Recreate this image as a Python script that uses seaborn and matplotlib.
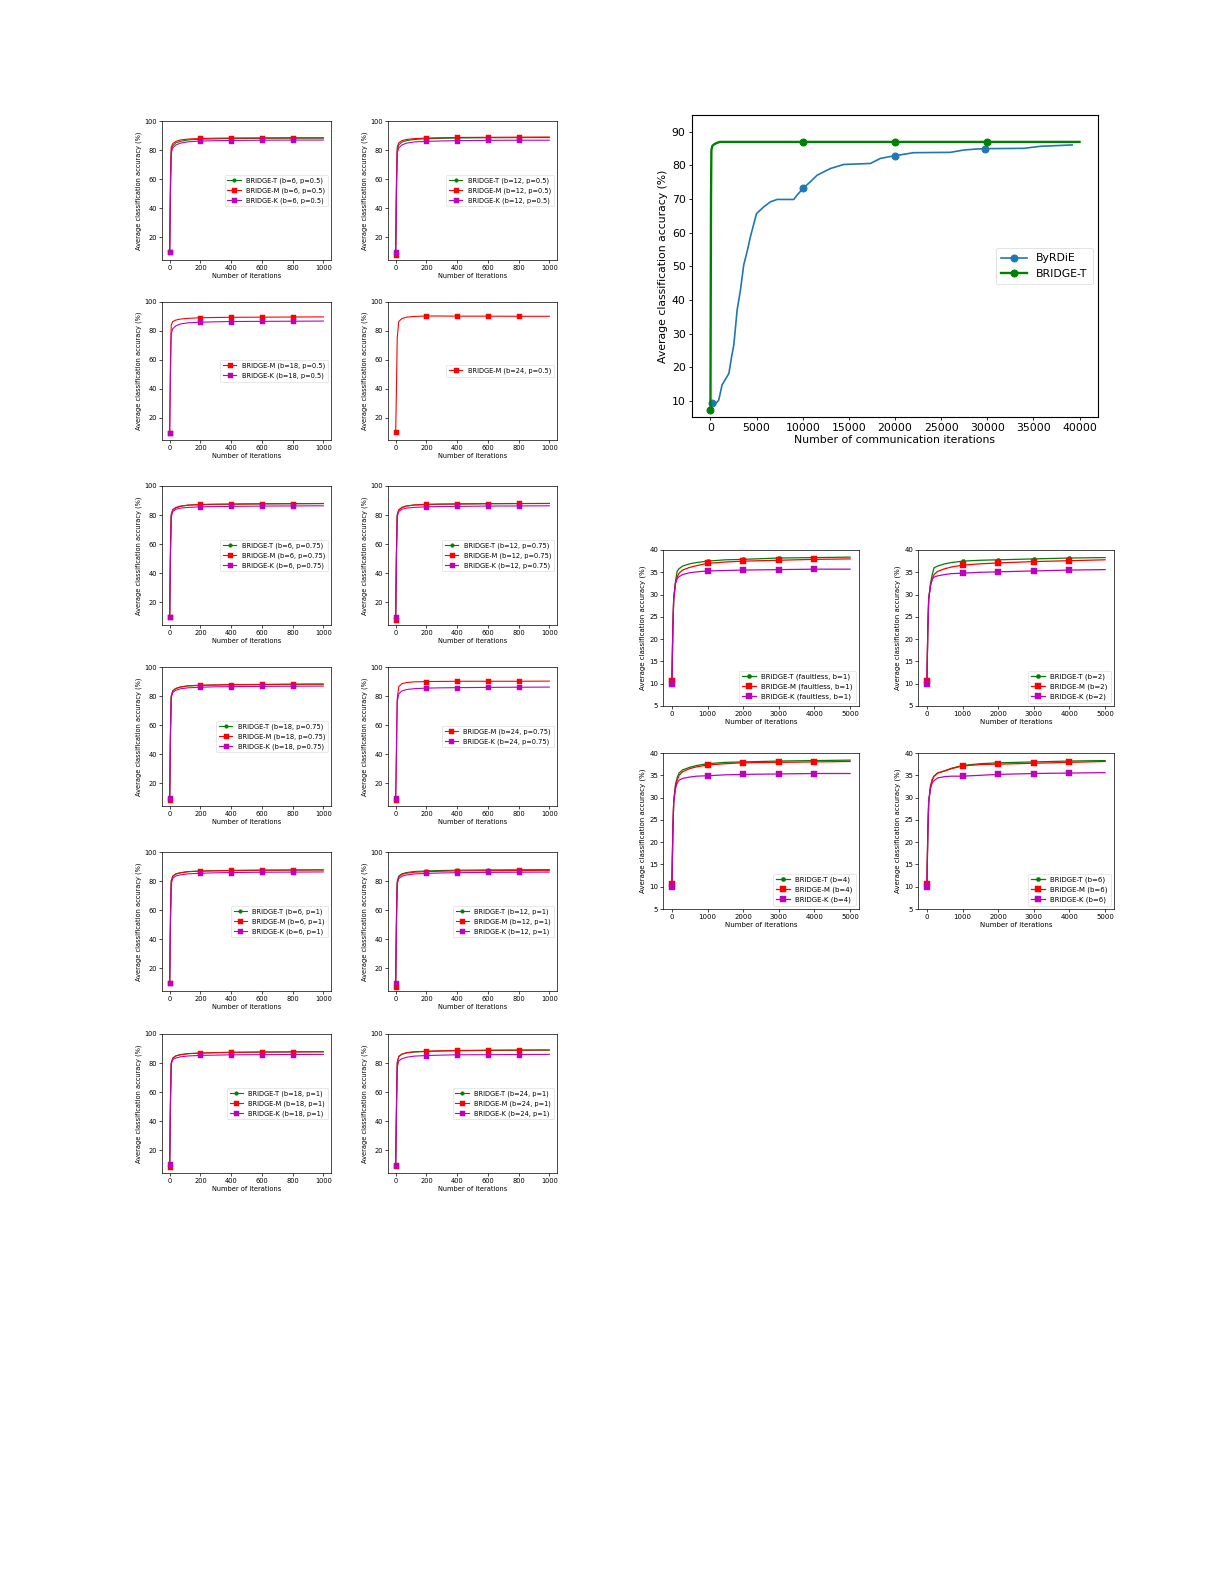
import matplotlib
matplotlib.use("Agg")
import matplotlib.pyplot as plt
import seaborn as sns

W, H = 1225, 1585

# ---------------- MNIST small panels (iterations 0..1000) ----------------
mnist_x = [0, 5, 10, 20, 40, 70, 120, 200, 300, 400, 600, 800, 1000]
mnist_marks = [0, 7, 9, 10, 11]  # 0, 200, 400, 600, 800

t_b6_p05 = [10, 55, 80, 83, 85, 86, 87, 87.5, 87.8, 88, 88.1, 88.2, 88.2]
m_b6_p05 = [10, 60, 82, 84.5, 86, 87, 87.6, 88, 88.2, 88.3, 88.4, 88.5, 88.5]
k_b6_p05 = [10, 50, 78, 81.5, 83.5, 84.8, 85.7, 86.2, 86.5, 86.6, 86.8, 86.9, 86.9]

t_b12_p05 = [9, 55, 80, 83.5, 85.5, 86.5, 87.3, 87.8, 88.1, 88.3, 88.5, 88.6, 88.6]
m_b12_p05 = [8, 58, 82, 85, 86.5, 87.3, 87.9, 88.3, 88.5, 88.7, 88.8, 88.9, 89]
k_b12_p05 = [10, 50, 78, 81.5, 83.5, 84.8, 85.6, 86, 86.3, 86.5, 86.7, 86.8, 86.8]

m_b18_p05 = [9.5, 60, 84, 86.5, 87.5, 88.2, 88.7, 89.1, 89.3, 89.4, 89.5, 89.6, 89.7]
k_b18_p05 = [9.5, 50, 78, 81.5, 83.5, 84.8, 85.6, 86, 86.3, 86.5, 86.6, 86.7, 86.8]

m_b24_p05 = [10, 40, 75, 86.5, 88.5, 89.5, 90, 90.3, 90.3, 90.2, 90.2, 90.1, 90.1]

t_b6_p075 = [10, 55, 80, 83.5, 85, 86, 86.8, 87.2, 87.4, 87.5, 87.7, 87.8, 87.9]
m_b6_p075 = [10, 56, 80.5, 83.8, 85.3, 86.2, 86.9, 87.3, 87.5, 87.6, 87.8, 87.9, 88]
k_b6_p075 = [10, 52, 79, 82.5, 84, 84.8, 85.3, 85.7, 85.9, 86, 86.2, 86.3, 86.4]

t_b12_p075 = [9.5, 55, 80, 83.5, 85.2, 86.2, 86.9, 87.3, 87.5, 87.6, 87.8, 87.9, 88]
m_b12_p075 = [8, 55, 80, 83.6, 85.3, 86.3, 87, 87.4, 87.6, 87.7, 87.9, 88, 88]
k_b12_p075 = [10, 52, 79, 82.5, 84, 84.8, 85.3, 85.7, 85.9, 86, 86.2, 86.3, 86.4]

t_b18_p075 = [9, 55, 80, 83.5, 85.2, 86.2, 87, 87.4, 87.6, 87.8, 88, 88.1, 88.2]
m_b18_p075 = [8.5, 55, 80, 83.6, 85.3, 86.3, 87.1, 87.5, 87.7, 87.9, 88, 88.2, 88.3]
k_b18_p075 = [10, 52, 79, 82.5, 84, 85, 85.7, 86.1, 86.4, 86.5, 86.7, 86.8, 86.9]

m_b24_p075 = [8.5, 40, 78, 86.5, 88.5, 89.3, 89.8, 90, 90.1, 90.2, 90.2, 90.2, 90.3]
k_b24_p075 = [10, 45, 76, 81.5, 83.5, 84.5, 85.1, 85.5, 85.7, 85.8, 86, 86.1, 86.2]

t_b6_p1 = [10, 55, 80, 83.5, 85, 85.8, 86.5, 86.9, 87.1, 87.3, 87.5, 87.6, 87.7]
m_b6_p1 = [10, 55, 80, 83.3, 84.8, 85.7, 86.5, 86.9, 87.1, 87.3, 87.5, 87.6, 87.7]
k_b6_p1 = [10, 50, 78, 82, 83.5, 84.3, 85, 85.4, 85.7, 85.9, 86.1, 86.2, 86.3]

t_b12_p1 = [9, 55, 80, 83.5, 85, 85.9, 86.6, 87, 87.3, 87.5, 87.7, 87.8, 87.9]
m_b12_p1 = [7, 55, 79, 82.8, 84.5, 85.4, 86.1, 86.5, 86.8, 87, 87.2, 87.3, 87.4]
k_b12_p1 = [10, 50, 78, 81.8, 83.3, 84.2, 84.9, 85.3, 85.6, 85.8, 86, 86.1, 86.2]

t_b18_p1 = [9, 55, 80, 83.5, 85, 85.8, 86.5, 86.9, 87.2, 87.4, 87.6, 87.7, 87.8]
m_b18_p1 = [8.5, 55, 80, 83.3, 84.9, 85.8, 86.5, 86.9, 87.2, 87.4, 87.6, 87.7, 87.8]
k_b18_p1 = [10.5, 50, 79, 82.5, 83.5, 84.3, 84.9, 85.3, 85.5, 85.7, 85.8, 85.9, 86]

t_b24_p1 = [9.5, 50, 80, 84.5, 86, 87, 87.6, 88, 88.3, 88.5, 88.7, 88.8, 88.9]
m_b24_p1 = [9, 50, 80.5, 84.7, 86.2, 87.2, 87.8, 88.2, 88.5, 88.7, 88.9, 89, 89.1]
k_b24_p1 = [10, 45, 77, 81.5, 83, 84, 84.8, 85.2, 85.5, 85.7, 85.8, 85.9, 86]

# ---------------- ByRDiE vs BRIDGE-T (communication iterations) ----------------
byrdie_x = [200, 540, 900, 1260, 2000, 2280, 2530, 2890, 3250, 3610, 3970, 4330, 4990,
            5780, 6500, 7230, 9030, 9390, 10040, 10840, 11560, 13000, 14450, 17340,
            18420, 19980, 22040, 26010, 27460, 28900, 29800, 33960, 35770, 39200]
byrdie_y = [9.5, 9.1, 10.3, 14.8, 18.2, 23, 26.6, 37, 43, 50.5, 54.4, 58.8, 65.7,
            67.7, 69.2, 69.9, 69.9, 71.2, 73.2, 75.2, 77.1, 79.1, 80.3, 80.6,
            82.1, 82.9, 83.8, 83.9, 84.6, 84.9, 85.0, 85.1, 85.7, 86.1]
byrdie_marks = [0, 18, 25, 30]

bridge_x = [0, 30, 60, 100, 200, 400, 700, 1000, 2000, 5000, 10000, 15000,
            20000, 25000, 30000, 35000, 40000]
bridge_y = [7.3, 40, 70, 84.5, 85.8, 86.3, 86.7, 87.0, 87.0, 87.0, 87.0, 87.0,
            87.0, 87.0, 87.0, 87.0, 87.0]
bridge_marks = [0, 10, 12, 14]

# ---------------- CIFAR-10 panels (iterations 0..5000) ----------------
cifar_x = [0, 25, 50, 100, 150, 200, 300, 500, 700, 1000, 1500, 2000, 3000, 4000, 5000]
cifar_marks = [0, 9, 11, 12, 13]  # 0, 1000, 2000, 3000, 4000

t_fl_b1 = [10.5, 22, 29, 33, 35.3, 35.8, 36.4, 36.9, 37.2, 37.5, 37.8, 37.9, 38.2, 38.3, 38.4]
m_fl_b1 = [10.5, 22, 29, 32.5, 34, 34.8, 35.5, 36.1, 36.5, 37, 37.3, 37.5, 37.7, 37.9, 38]
k_fl_b1 = [10, 22, 29, 32.5, 33.6, 34, 34.5, 34.9, 35.1, 35.3, 35.4, 35.5, 35.6, 35.7, 35.7]

t_c_b2 = [10.5, 22, 29, 32.5, 34.5, 36, 36.4, 36.9, 37.2, 37.5, 37.7, 37.8, 38, 38.2, 38.3]
m_c_b2 = [10.5, 22, 29, 32, 33.5, 34.5, 35.2, 35.8, 36.2, 36.6, 36.9, 37.1, 37.4, 37.6, 37.8]
k_c_b2 = [10, 22, 29, 32, 33.5, 33.9, 34.2, 34.5, 34.7, 34.8, 35, 35.1, 35.3, 35.5, 35.6]

t_c_b4 = [10.5, 22, 29, 33, 34.5, 35.5, 36.2, 36.8, 37.2, 37.6, 37.9, 38, 38.2, 38.3, 38.4]
m_c_b4 = [10.5, 22, 29, 32.5, 34, 35, 35.8, 36.5, 36.9, 37.3, 37.6, 37.8, 37.9, 38, 38.1]
k_c_b4 = [10, 22, 29, 32, 33.3, 33.9, 34.3, 34.6, 34.8, 34.9, 35.1, 35.2, 35.3, 35.4, 35.4]

t_c_b6 = [10.5, 22, 29, 32.5, 34, 34.8, 35.5, 36, 36.6, 37.2, 37.6, 37.8, 38, 38.2, 38.3]
m_c_b6 = [10.5, 22, 29, 32.5, 34, 34.8, 35.5, 36, 36.5, 37.1, 37.4, 37.5, 37.7, 37.9, 38.1]
k_c_b6 = [10, 22, 29, 32, 33.3, 33.8, 34.4, 34.7, 34.8, 34.8, 35, 35.2, 35.4, 35.5, 35.6]


def px_axes(fig, left, top, right, bottom):
    return fig.add_axes([left / W, 1 - bottom / H, (right - left) / W, (bottom - top) / H])


def style_small(ax, fs):
    for s in ax.spines.values():
        s.set_linewidth(0.5)
    ax.tick_params(labelsize=fs, length=2, width=0.5, pad=1.5)


COLORS = {"T": "g", "M": "r", "K": "m"}
STY = {
    "T": dict(marker="o", markersize=2.6),
    "M": dict(marker="s", markersize=3.6),
    "K": dict(marker="s", markersize=3.6),
}

fig = plt.figure(figsize=(W / 100, H / 100), dpi=100)

# MNIST grid
col_lr = [(162, 331), (388, 557)]
row_tb = [(121, 260), (302, 440), (486, 625), (667, 806), (852, 991), (1034, 1173)]

mnist_panels = [
    [("T", t_b6_p05, "b=6, p=0.5"), ("M", m_b6_p05, "b=6, p=0.5"), ("K", k_b6_p05, "b=6, p=0.5")],
    [("T", t_b12_p05, "b=12, p=0.5"), ("M", m_b12_p05, "b=12, p=0.5"), ("K", k_b12_p05, "b=12, p=0.5")],
    [("M", m_b18_p05, "b=18, p=0.5"), ("K", k_b18_p05, "b=18, p=0.5")],
    [("M", m_b24_p05, "b=24, p=0.5")],
    [("T", t_b6_p075, "b=6, p=0.75"), ("M", m_b6_p075, "b=6, p=0.75"), ("K", k_b6_p075, "b=6, p=0.75")],
    [("T", t_b12_p075, "b=12, p=0.75"), ("M", m_b12_p075, "b=12, p=0.75"), ("K", k_b12_p075, "b=12, p=0.75")],
    [("T", t_b18_p075, "b=18, p=0.75"), ("M", m_b18_p075, "b=18, p=0.75"), ("K", k_b18_p075, "b=18, p=0.75")],
    [("M", m_b24_p075, "b=24, p=0.75"), ("K", k_b24_p075, "b=24, p=0.75")],
    [("T", t_b6_p1, "b=6, p=1"), ("M", m_b6_p1, "b=6, p=1"), ("K", k_b6_p1, "b=6, p=1")],
    [("T", t_b12_p1, "b=12, p=1"), ("M", m_b12_p1, "b=12, p=1"), ("K", k_b12_p1, "b=12, p=1")],
    [("T", t_b18_p1, "b=18, p=1"), ("M", m_b18_p1, "b=18, p=1"), ("K", k_b18_p1, "b=18, p=1")],
    [("T", t_b24_p1, "b=24, p=1"), ("M", m_b24_p1, "b=24, p=1"), ("K", k_b24_p1, "b=24, p=1")],
]

fs_small = 4.8
for i, series in enumerate(mnist_panels):
    r, c = divmod(i, 2)
    ax = px_axes(fig, col_lr[c][0], row_tb[r][0], col_lr[c][1], row_tb[r][1])
    for key, vals, tag in series:
        sns.lineplot(x=mnist_x, y=vals, ax=ax, linewidth=0.8, markevery=mnist_marks,
                     color=COLORS[key], markeredgecolor=COLORS[key], markeredgewidth=0.3,
                     label=f"BRIDGE-{key} ({tag})", **STY[key])
    ax.set_xlim(-50, 1050)
    ax.set_ylim(4.5, 100)
    ax.set_xticks([0, 200, 400, 600, 800, 1000])
    ax.set_yticks([20, 40, 60, 80, 100])
    style_small(ax, fs_small)
    ax.set_xlabel("Number of iterations", fontsize=fs_small, labelpad=1.5)
    ax.set_ylabel("Average classification accuracy (%)", fontsize=fs_small, labelpad=2)
    ax.legend(loc="center right", fontsize=fs_small, frameon=True, handlelength=2.0,
              borderpad=0.4, labelspacing=0.5, framealpha=0.8).get_frame().set_linewidth(0.4)

# Big comparison panel
ax = px_axes(fig, 692, 115, 1098, 417)
sns.lineplot(x=byrdie_x, y=byrdie_y, ax=ax, color="#1f77b4", linewidth=1.2, marker="o",
             markersize=5, markeredgecolor="#1f77b4", markevery=byrdie_marks, label="ByRDiE")
sns.lineplot(x=bridge_x, y=bridge_y, ax=ax, color="g", linewidth=1.7, marker="o",
             markersize=5, markeredgecolor="g", markevery=bridge_marks, label="BRIDGE-T")
ax.set_xlim(-2000, 42000)
ax.set_ylim(5.25, 95)
ax.set_xticks(range(0, 40001, 5000))
ax.set_yticks(range(10, 91, 10))
fs_big = 7.8
ax.tick_params(labelsize=fs_big, length=2.5, width=0.6, pad=2)
for s in ax.spines.values():
    s.set_linewidth(0.8)
ax.set_xlabel("Number of communication iterations", fontsize=fs_big, labelpad=1)
ax.set_ylabel("Average classification accuracy (%)", fontsize=fs_big, labelpad=3)
ax.legend(loc="center right", fontsize=fs_big, handlelength=2.4, borderpad=0.5,
          labelspacing=0.5, framealpha=0.8).get_frame().set_linewidth(0.5)

# CIFAR panels
c_col = [(663, 859), (918, 1114)]
c_row = [(550, 706), (753, 909)]
cifar_panels = [
    [("T", t_fl_b1, "faultless, b=1"), ("M", m_fl_b1, "faultless, b=1"), ("K", k_fl_b1, "faultless, b=1")],
    [("T", t_c_b2, "b=2"), ("M", m_c_b2, "b=2"), ("K", k_c_b2, "b=2")],
    [("T", t_c_b4, "b=4"), ("M", m_c_b4, "b=4"), ("K", k_c_b4, "b=4")],
    [("T", t_c_b6, "b=6"), ("M", m_c_b6, "b=6"), ("K", k_c_b6, "b=6")],
]
CSTY = {
    "T": dict(marker="o", markersize=3.0),
    "M": dict(marker="s", markersize=4.0),
    "K": dict(marker="s", markersize=4.0),
}
fs_c = 5.0
for i, series in enumerate(cifar_panels):
    r, c = divmod(i, 2)
    ax = px_axes(fig, c_col[c][0], c_row[r][0], c_col[c][1], c_row[r][1])
    for key, vals, tag in series:
        sns.lineplot(x=cifar_x, y=vals, ax=ax, linewidth=0.9, markevery=cifar_marks,
                     color=COLORS[key], markeredgecolor=COLORS[key], markeredgewidth=0.3,
                     label=f"BRIDGE-{key} ({tag})", **CSTY[key])
    ax.set_xlim(-250, 5250)
    ax.set_ylim(5, 40)
    ax.set_xticks(range(0, 5001, 1000))
    ax.set_yticks(range(5, 41, 5))
    style_small(ax, fs_c)
    ax.set_xlabel("Number of iterations", fontsize=fs_c, labelpad=1.5)
    ax.set_ylabel("Average classification accuracy (%)", fontsize=fs_c, labelpad=2)
    ax.legend(loc="lower right", fontsize=fs_c, handlelength=2.0, borderpad=0.4,
              labelspacing=0.5, framealpha=0.8).get_frame().set_linewidth(0.4)

fig.savefig("out.png", dpi=100)
